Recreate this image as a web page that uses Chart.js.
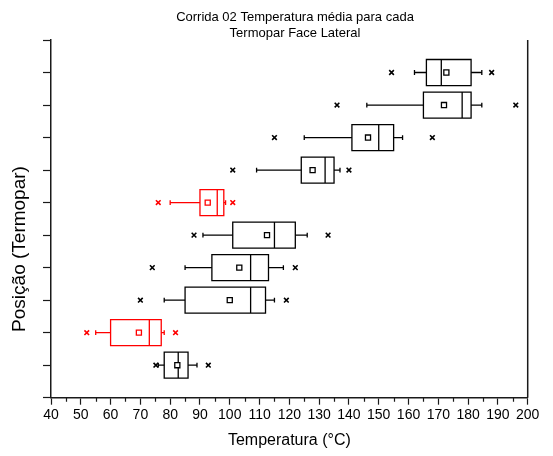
<!DOCTYPE html>
<html>
<head>
<meta charset="utf-8">
<script src="https://cdn.jsdelivr.net/npm/chart.js@4.4.1/dist/chart.umd.min.js"></script>
<style>
  html, body { margin: 0; padding: 0; background: #ffffff; }
  canvas { display: block; }
</style>
</head>
<body>
<canvas id="c" width="553" height="456"></canvas>
<script>
// Positions (Termopar) from bottom (1) to top (10)
const positions   = [1, 2, 3, 4, 5, 6, 7, 8, 9, 10];
const whiskerLow  = [76,   55,   78,   85,    91,    80,   109,   125,   146,   162];
const q1          = [78,   60,   85,   94,    101,   90,   124,   141,   165,   166];
const median      = [82.7, 73,   107,  107,   115,   95.8, 132,   150,   178,   171];
const q3          = [86,   77,   112,  113,   122,   98,   135,   155,   181,   181];
const whiskerHigh = [89,   78,   115,  118,   126,   98.6, 137,   158,   184.6, 184.6];
const meanValues  = [82.4, 69.5, 100,  103.2, 112.5, 92.6, 127.8, 146.4, 171.9, 172.7];
const outlierLow  = [75.2, 52,   70,   74,    88,    76,   101,   115,   136,   154.3];
const outlierHigh = [92.8, 81.8, 119,  122,   133,   101,  140,   168,   196,   187.9];
const boxColors   = ['#000000', '#ff0000', '#000000', '#000000', '#000000', '#ff0000', '#000000', '#000000', '#000000', '#000000'];
const xTickValues = [40, 50, 60, 70, 80, 90, 100, 110, 120, 130, 140, 150, 160, 170, 180, 190, 200];

const titleLines = ['Corrida 02 Temperatura média para cada', 'Termopar Face Lateral'];
const xTitle = 'Temperatura (°C)';
const yTitle = 'Posição (Termopar)';

const FONT = "'Liberation Sans', Arial, sans-serif";
const AXIS_COLOR = '#1a1a1a';

const meanPoints = positions.map((p, i) => ({ x: meanValues[i], y: p }));
const outlierPoints = [];
const outlierColors = [];
positions.forEach((p, i) => {
  outlierPoints.push({ x: outlierLow[i], y: p });
  outlierColors.push(boxColors[i]);
  outlierPoints.push({ x: outlierHigh[i], y: p });
  outlierColors.push(boxColors[i]);
});

const boxPlugin = {
  id: 'boxes',
  beforeDatasetsDraw(chart) {
    const { ctx, scales: { x, y } } = chart;
    const half = 0.4;
    const cap = 2.4;
    ctx.save();
    positions.forEach((p, i) => {
      const c = boxColors[i];
      ctx.strokeStyle = c;
      ctx.lineWidth = 1.3;
      const yc = y.getPixelForValue(p);
      const yt = y.getPixelForValue(p + half);
      const yb = y.getPixelForValue(p - half);
      const xl = x.getPixelForValue(q1[i]);
      const xr = x.getPixelForValue(q3[i]);
      const xm = x.getPixelForValue(median[i]);
      const wl = x.getPixelForValue(whiskerLow[i]);
      const wh = x.getPixelForValue(whiskerHigh[i]);
      ctx.beginPath();
      ctx.moveTo(wl, yc); ctx.lineTo(xl, yc);
      ctx.moveTo(xr, yc); ctx.lineTo(wh, yc);
      ctx.moveTo(wl, yc - cap); ctx.lineTo(wl, yc + cap);
      ctx.moveTo(wh, yc - cap); ctx.lineTo(wh, yc + cap);
      ctx.stroke();
      ctx.beginPath();
      ctx.rect(xl, yt, xr - xl, yb - yt);
      ctx.moveTo(xm, yt); ctx.lineTo(xm, yb);
      ctx.stroke();
    });
    ctx.restore();
  },
  afterDraw(chart) {
    const { ctx, chartArea, scales: { x } } = chart;
    ctx.save();
    ctx.strokeStyle = AXIS_COLOR;
    ctx.lineWidth = 1.5;
    ctx.beginPath();
    ctx.moveTo(chartArea.right, chartArea.top);
    ctx.lineTo(chartArea.right, chartArea.bottom);
    ctx.stroke();
    ctx.lineWidth = 1.2;
    ctx.beginPath();
    for (let v = 45; v < 200; v += 10) {
      const px = Math.round(x.getPixelForValue(v)) + 0.5;
      ctx.moveTo(px, chartArea.bottom);
      ctx.lineTo(px, chartArea.bottom + 4);
    }
    ctx.stroke();
    ctx.fillStyle = '#000';
    ctx.font = '13px ' + FONT;
    ctx.textAlign = 'center';
    ctx.textBaseline = 'alphabetic';
    ctx.fillText(titleLines[0], 295, 20.5);
    ctx.fillText(titleLines[1], 295, 36.5);
    ctx.font = '19px ' + FONT;
    ctx.translate(20, 249);
    ctx.rotate(-Math.PI / 2);
    ctx.textBaseline = 'middle';
    ctx.fillText(yTitle, 0, 0);
    ctx.restore();
  }
};

new Chart(document.getElementById('c'), {
  type: 'scatter',
  data: {
    datasets: [
      {
        label: 'Média',
        data: meanPoints,
        pointStyle: 'rect',
        pointRadius: 3.6,
        pointBorderWidth: 1.3,
        pointBackgroundColor: '#ffffff',
        pointBorderColor: boxColors,
        showLine: false
      },
      {
        label: 'Outliers',
        data: outlierPoints,
        pointStyle: 'crossRot',
        pointRadius: 3.3,
        pointBorderWidth: 1.6,
        pointBorderColor: outlierColors,
        pointBackgroundColor: outlierColors,
        showLine: false
      }
    ]
  },
  options: {
    responsive: false,
    animation: false,
    events: [],
    layout: { padding: { top: 40, right: 25.3, left: 0, bottom: 0 } },
    plugins: {
      legend: { display: false },
      title: { display: false },
      tooltip: { enabled: false }
    },
    scales: {
      x: {
        type: 'linear',
        min: 40,
        max: 200,
        afterFit(scale) { scale.height = 58.3; },
        afterBuildTicks(scale) { scale.ticks = xTickValues.map(v => ({ value: v })); },
        border: { display: true, color: AXIS_COLOR, width: 1.5 },
        grid: { drawOnChartArea: false, drawTicks: true, tickLength: 7, tickColor: AXIS_COLOR, tickWidth: 1.2 },
        ticks: { color: '#000', font: { family: FONT, size: 14 }, padding: 2, maxRotation: 0, autoSkip: false },
        title: { display: true, text: xTitle, color: '#000', font: { family: FONT, size: 16 }, padding: { top: 0, bottom: 5.4 } }
      },
      y: {
        type: 'linear',
        min: 0,
        max: 11,
        afterFit(scale) { scale.width = 51; },
        afterBuildTicks(scale) { scale.ticks = [0, 1, 2, 3, 4, 5, 6, 7, 8, 9, 10, 11].map(v => ({ value: v })); },
        border: { display: true, color: AXIS_COLOR, width: 1.5 },
        grid: { drawOnChartArea: false, drawTicks: true, tickLength: 8, tickColor: AXIS_COLOR, tickWidth: 1.2 },
        ticks: { display: false }
      }
    }
  },
  plugins: [boxPlugin]
});
</script>
</body>
</html>
